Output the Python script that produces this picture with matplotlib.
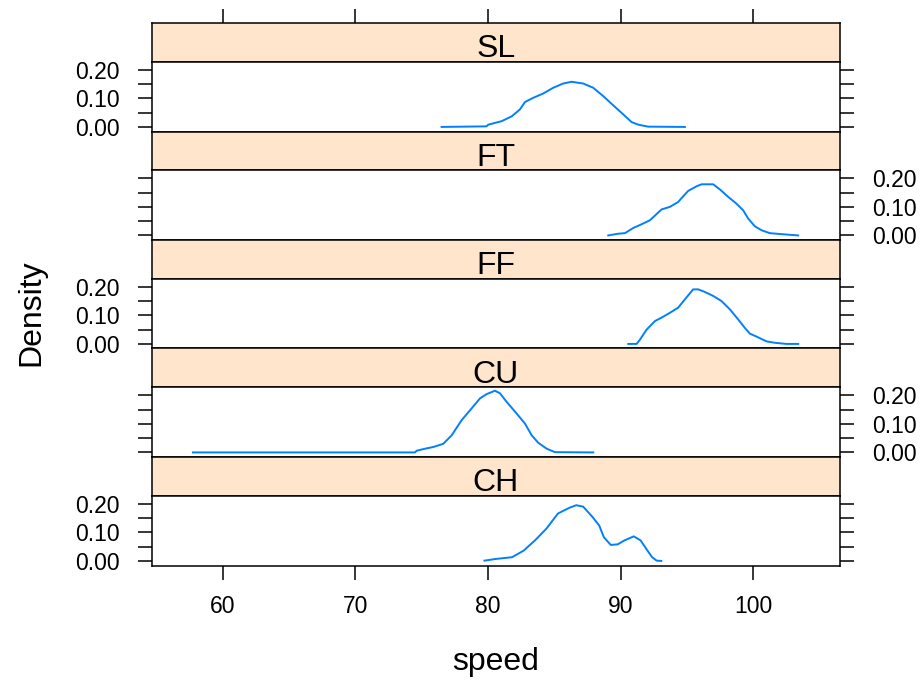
import numpy as np
import matplotlib
matplotlib.use('Agg')
import matplotlib.pyplot as plt

plt.rcParams['font.family'] = ['Liberation Sans', 'DejaVu Sans']

# panel order top -> bottom
PITCHES = ['SL', 'FT', 'FF', 'CU', 'CH']

SL_SPEED = [76.50, 79.89, 80.02, 81.02, 81.78, 82.40, 82.78, 83.41, 84.16, 84.91, 85.67,
            86.30, 87.17, 87.93, 88.68, 89.31, 90.07, 90.82, 91.32, 92.07, 94.84]
SL_DENS = [0.000, 0.002, 0.008, 0.020, 0.037, 0.061, 0.087, 0.102, 0.117, 0.137, 0.152,
           0.158, 0.152, 0.137, 0.108, 0.081, 0.049, 0.017, 0.008, 0.001, 0.000]

FT_SPEED = [89.06, 89.81, 90.32, 90.94, 91.57, 92.20, 93.08, 93.71, 94.33, 94.71, 95.09,
            95.72, 96.10, 96.97, 97.48, 98.10, 98.73, 99.23, 99.61, 100.11, 100.62,
            101.24, 102.25, 103.38]
FT_DENS = [0.000, 0.006, 0.008, 0.026, 0.039, 0.053, 0.091, 0.100, 0.117, 0.137, 0.156,
           0.172, 0.179, 0.179, 0.161, 0.135, 0.111, 0.088, 0.059, 0.032, 0.018,
           0.008, 0.004, 0.000]

FF_SPEED = [90.57, 91.20, 91.45, 91.95, 92.58, 93.08, 93.71, 94.33, 94.84, 95.46, 95.84,
            96.34, 96.97, 97.60, 98.23, 98.85, 99.36, 99.74, 100.36, 100.99, 101.62,
            102.50, 103.38]
FF_DENS = [0.000, 0.000, 0.015, 0.050, 0.080, 0.092, 0.109, 0.127, 0.156, 0.191, 0.191,
           0.182, 0.168, 0.150, 0.121, 0.086, 0.056, 0.036, 0.023, 0.009, 0.004,
           0.000, 0.000]

CU_SPEED = [57.76, 74.49, 74.62, 75.25, 75.87, 76.62, 77.26, 78.01, 78.76, 79.39, 79.89,
            80.52, 80.90, 81.40, 82.16, 82.78, 83.29, 83.78, 84.42, 85.04, 87.93]
CU_DENS = [0.000, 0.000, 0.006, 0.013, 0.019, 0.030, 0.060, 0.113, 0.154, 0.189, 0.204,
           0.216, 0.207, 0.177, 0.136, 0.101, 0.060, 0.034, 0.013, 0.001, 0.000]

CH_SPEED = [79.73, 80.60, 81.81, 82.68, 83.54, 84.40, 85.27, 86.13, 86.65, 87.17, 87.87,
            88.38, 88.73, 89.25, 89.77, 90.29, 90.98, 91.50, 92.02, 92.37, 92.71, 93.06]
CH_DENS = [0.001, 0.007, 0.013, 0.036, 0.072, 0.113, 0.166, 0.186, 0.195, 0.190, 0.154,
           0.124, 0.083, 0.056, 0.058, 0.072, 0.086, 0.072, 0.036, 0.013, 0.001, 0.000]

CURVES = {'SL': (SL_SPEED, SL_DENS), 'FT': (FT_SPEED, FT_DENS), 'FF': (FF_SPEED, FF_DENS),
          'CU': (CU_SPEED, CU_DENS), 'CH': (CH_SPEED, CH_DENS)}

X_TICKS = [60, 70, 80, 90, 100]
Y_TICKS = [0.00, 0.05, 0.10, 0.15, 0.20]
Y_LABELS = ['0.00', '', '0.10', '', '0.20']

W, H = 924, 680
fig = plt.figure(figsize=(W / 100, H / 100), dpi=100)

left, right = 152, 840
top0 = 23
strip_h, panel_h = 38.5, 70.0
xlim = (54.67, 106.53)
ylim = (-0.016, 0.229)
lw_frame = 1.1
tick_kw = dict(direction='out', length=10, width=1.1, colors='black', labelsize=16.5)

for i, name in enumerate(PITCHES):
    t = top0 + i * (strip_h + panel_h)
    # strip
    sax = fig.add_axes([left / W, 1 - (t + strip_h) / H, (right - left) / W, strip_h / H])
    sax.set_facecolor('#ffe5cc')
    sax.set_xlim(*xlim)
    sax.set_ylim(0, 1)
    sax.set_yticks([])
    if i == 0:
        sax.xaxis.set_ticks_position('top')
        sax.set_xticks(X_TICKS)
        sax.set_xticklabels([])
        sax.tick_params(axis='x', **tick_kw)
    else:
        sax.set_xticks([])
    for s in sax.spines.values():
        s.set_linewidth(lw_frame)
    sax.text(0.5, 0.11, name, transform=sax.transAxes, ha='center', va='baseline',
             fontsize=23)

    # panel
    ax = fig.add_axes([left / W, 1 - (t + strip_h + panel_h) / H, (right - left) / W, panel_h / H])
    x, d = CURVES[name]
    ax.plot(x, d, color='#0080ff', lw=1.4)
    ax.set_xlim(*xlim)
    ax.set_ylim(*ylim)
    ax.set_yticks(Y_TICKS)
    ax.set_yticklabels(Y_LABELS)
    lab_left = (i % 2 == 0)
    ax.tick_params(axis='y', left=True, right=True, labelleft=lab_left,
                   labelright=not lab_left, pad=13, **tick_kw)
    if i == len(PITCHES) - 1:
        ax.set_xticks(X_TICKS)
        ax.tick_params(axis='x', pad=11.5, **tick_kw)
    else:
        ax.set_xticks([])
    for s in ax.spines.values():
        s.set_linewidth(lw_frame)

fig.text(496 / W, 1 - 670 / H, 'speed', ha='center', va='baseline', fontsize=23)
fig.text(31 / W, 1 - 313 / H, 'Density', ha='center', va='center', rotation=90, fontsize=23)

fig.savefig('out.png', dpi=100)
